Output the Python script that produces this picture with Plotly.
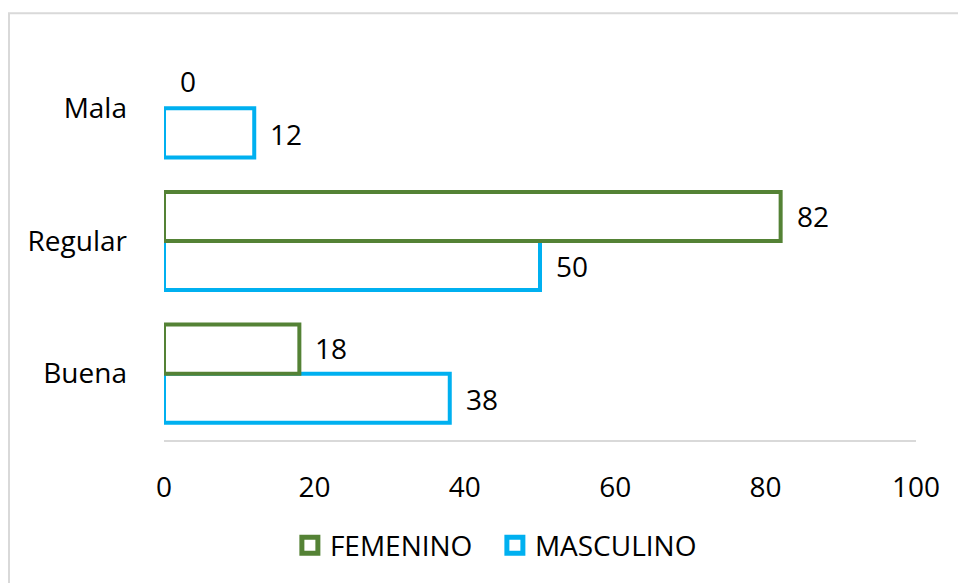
import plotly.graph_objects as go

categories = ["Buena", "Regular", "Mala"]
femenino = [18, 82, 0]
masculino = [38, 50, 12]
x_ticks = [0, 20, 40, 60, 80, 100]

GREEN = "#548235"
CYAN = "#00B0F0"
FONT = "Open Sans"
SIZE = 28


def outline_widths(values):
    # zero-length bars get no outline so they leave no stray stroke
    return [4 if v else 0 for v in values]


fig = go.Figure()
fig.add_trace(go.Bar(
    y=categories, x=masculino, orientation="h", name="MASCULINO",
    marker=dict(color="white", line=dict(color=CYAN, width=outline_widths(masculino))),
    showlegend=False,
))
fig.add_trace(go.Bar(
    y=categories, x=femenino, orientation="h", name="FEMENINO",
    marker=dict(color="white", line=dict(color=GREEN, width=outline_widths(femenino))),
    showlegend=False,
))

# legend entries with large open-square swatches
for name, color, rank in (("FEMENINO", GREEN, 1), ("MASCULINO", CYAN, 2)):
    fig.add_trace(go.Scatter(
        x=[None], y=[None], mode="markers", name=name, legendrank=rank,
        marker=dict(symbol="square-open", size=16, color=color, line=dict(width=5)),
    ))

# value labels placed just past the end of each bar
annotations = []
for i, cat in enumerate(categories):
    for val, off in ((masculino[i], -0.19), (femenino[i], 0.19)):
        annotations.append(dict(
            x=val, y=i + off, xref="x", yref="y", text=str(val),
            showarrow=False, xanchor="left", yanchor="middle",
            xshift=14, yshift=0 if val else 2,
            font=dict(family=FONT, size=SIZE, color="#000"),
        ))

fig.update_layout(
    width=958, height=583,
    margin=dict(l=164, r=42, t=42, b=141),
    paper_bgcolor="white", plot_bgcolor="white",
    barmode="group", bargap=0.26, bargroupgap=0,
    font=dict(family=FONT, size=SIZE, color="#000"),
    showlegend=True,
    legend=dict(orientation="h", x=0.44, xanchor="center", y=-0.265, yanchor="middle",
                font=dict(family=FONT, size=SIZE), itemwidth=30, traceorder="normal",
                entrywidth=160, entrywidthmode="pixels"),
    annotations=annotations,
    shapes=[dict(type="rect", xref="paper", yref="paper",
                 x0=(9 - 164) / 752, x1=1.2, y0=-0.6, y1=(442 - 13) / 400,
                 line=dict(color="#d9d9d9", width=2), layer="below")],
)
fig.update_xaxes(range=[0, 100], tickvals=x_ticks, showgrid=False, zeroline=False,
                 showline=True, linecolor="#d9d9d9", linewidth=2,
                 ticks="", ticklabelstandoff=21, fixedrange=True)
fig.update_yaxes(showgrid=False, zeroline=False, showline=False, ticks="",
                 ticklabelstandoff=36, fixedrange=True)

fig.write_html("out.html")
